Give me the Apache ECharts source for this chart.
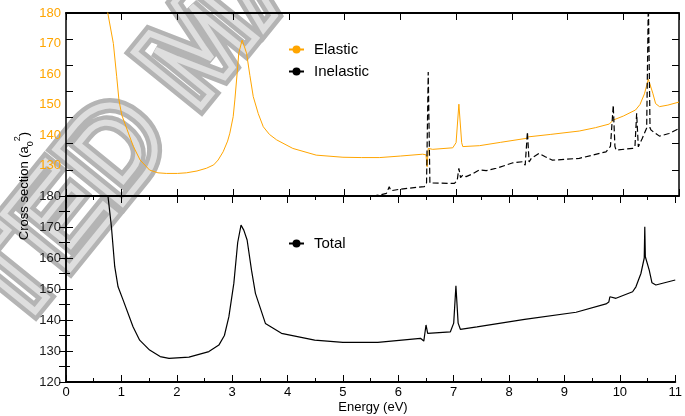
<!DOCTYPE html>
<html>
<head>
<meta charset="utf-8">
<script src="https://cdn.jsdelivr.net/npm/echarts@6/dist/echarts.min.js"></script>
<style>
  html, body { margin: 0; padding: 0; background: #fff; }
  #chart { width: 685px; height: 416px; }
</style>
</head>
<body>
<div id="chart"></div>
<script>
// energy (eV) and cross sections
const energyElastic = [0.70, 0.75, 0.85, 0.91, 0.95, 1.00, 1.12, 1.21, 1.33, 1.50, 1.65, 1.80, 2.00, 2.16, 2.35, 2.52, 2.65, 2.73, 2.82, 2.90, 2.94, 3.00, 3.03, 3.07, 3.10, 3.16, 3.21, 3.24, 3.30, 3.36, 3.45, 3.54, 3.65, 3.78, 4.07, 4.49, 4.97, 5.30, 5.63, 6.00, 6.40, 6.46, 6.48, 6.50, 6.58, 6.94, 7.00, 7.05, 7.10, 7.12, 7.42, 7.80, 8.26, 8.30, 8.70, 9.21, 9.50, 9.75, 9.82, 10.00, 10.22, 10.30, 10.38, 10.45, 10.53, 10.58, 10.65, 10.80, 11.00];
const elastic = [188, 180, 170, 159.1, 151.5, 146.6, 140.6, 136.2, 131.8, 128.5, 127.6, 127.4, 127.4, 127.6, 128.2, 129.1, 130.2, 131.8, 134.5, 138, 140.6, 146, 151.5, 160, 166.8, 171.1, 168.5, 166.8, 159.5, 152.6, 147, 142.7, 140.2, 138.4, 135.6, 133.4, 132.7, 132.6, 132.6, 133.1, 133.7, 133.5, 129.6, 135.6, 135.3, 135.8, 137.5, 150.1, 137.5, 136.2, 136.5, 137.6, 138.9, 139.4, 140.2, 141.3, 142.4, 143.6, 144.9, 146.2, 148.2, 150, 153.5, 158.3, 153.7, 150.3, 149.3, 149.8, 150.8];

// inelastic is on the (cut off) right-hand scale, 0..7 ticks
const energyInelastic = [5.50, 5.63, 5.75, 5.80, 5.83, 5.99, 6.43, 6.47, 6.50, 6.53, 6.97, 7.02, 7.05, 7.08, 7.12, 7.18, 7.30, 7.42, 7.54, 7.72, 8.02, 8.19, 8.24, 8.28, 8.31, 8.35, 8.49, 8.60, 8.73, 9.21, 9.69, 9.77, 9.82, 9.85, 9.87, 10.17, 10.21, 10.24, 10.27, 10.34, 10.42, 10.45, 10.48, 10.50, 10.65, 10.82, 11.00];
const inelastic = [0, 0.04, 0.1, 0.35, 0.2, 0.26, 0.36, 0.5, 4.74, 0.5, 0.48, 0.6, 1.06, 0.7, 0.8, 0.74, 0.85, 1.0, 0.97, 1.06, 1.27, 1.31, 1.18, 2.45, 1.3, 1.44, 1.63, 1.5, 1.37, 1.44, 1.69, 1.9, 3.47, 1.9, 1.76, 1.82, 1.9, 3.16, 1.88, 2.2, 2.6, 7.5, 2.6, 2.52, 2.29, 2.39, 2.58];

const energyTotal = [0.74, 0.76, 0.82, 0.88, 0.94, 1.03, 1.21, 1.33, 1.51, 1.70, 1.86, 2.22, 2.58, 2.76, 2.86, 2.94, 3.03, 3.10, 3.16, 3.21, 3.27, 3.35, 3.42, 3.60, 3.89, 4.49, 5.00, 5.63, 6.40, 6.46, 6.48, 6.50, 6.53, 6.94, 7.00, 7.04, 7.08, 7.12, 7.42, 8.28, 9.21, 9.75, 9.80, 9.82, 9.93, 10.23, 10.29, 10.38, 10.44, 10.45, 10.46, 10.53, 10.58, 10.65, 11.00];
const total = [182, 179.6, 170.1, 157.2, 150.7, 146.5, 137.8, 133.5, 130.3, 128.2, 127.6, 128, 129.8, 131.9, 135, 141, 151.8, 165, 170.6, 169, 165.8, 156, 148.6, 138.9, 135.7, 133.5, 132.8, 132.8, 134.1, 133.2, 133.5, 138.4, 135.7, 136.2, 139, 151, 139, 137, 137.8, 140.2, 142.5, 145.2, 145.8, 147.5, 147, 149.1, 150.7, 155, 160, 170.1, 160.4, 156.1, 152, 151.3, 152.9];

const FONT = "'Liberation Sans', Arial, sans-serif";
const ORANGE = '#ffa500';
const pairs = (xs, ys) => xs.map((x, i) => [x, ys[i]]);

const chart = echarts.init(document.getElementById('chart'), null, { renderer: 'canvas' });

const xBase = (grid, position, extra) => Object.assign({
  type: 'value', gridIndex: grid, position, min: 0, max: 11, interval: 1,
  axisLine: { show: true, onZero: false, lineStyle: { color: '#000', width: 2 } },
  axisTick: { show: true, inside: true, length: 7, lineStyle: { color: '#000', width: 1 } },
  axisLabel: { show: false },
  splitLine: { show: false }
}, extra || {});

const option = {
  animation: false,
  backgroundColor: '#fff',
  textStyle: { fontFamily: FONT },
  grid: [
    { left: 66, right: 6, top: 13, height: 183 },
    { left: 66, right: 6, top: 196, height: 186 }
  ],
  xAxis: [
    xBase(0, 'bottom'),
    xBase(0, 'top'),
    xBase(1, 'bottom', {
      axisLabel: { show: true, color: '#000', fontSize: 13, margin: 4, fontFamily: FONT },
      minorTick: { show: true, splitNumber: 2, length: 4, lineStyle: { color: '#000', width: 1 } }
    }),
    xBase(1, 'top', {
      minorTick: { show: true, splitNumber: 2, length: 4, lineStyle: { color: '#000', width: 1 } }
    })
  ],
  yAxis: [
    {
      type: 'value', gridIndex: 0, position: 'left', min: 120, max: 180, interval: 10,
      axisLine: { show: true, lineStyle: { color: '#000', width: 1.5 } },
      axisTick: { show: false },
      axisLabel: { color: ORANGE, fontSize: 13, margin: 5, fontFamily: FONT,
        formatter: v => (v === 120 ? '' : v) },
      splitLine: { show: false }
    },
    {
      type: 'value', gridIndex: 0, position: 'left', min: 0, max: 7, interval: 1,
      axisLine: { show: false },
      axisTick: { show: true, inside: true, length: 7, lineStyle: { color: '#000' } },
      axisLabel: { show: false },
      splitLine: { show: false }
    },
    {
      type: 'value', gridIndex: 0, position: 'right', min: 0, max: 7, interval: 1,
      axisLine: { show: true, lineStyle: { color: '#000', width: 1.5 } },
      axisTick: { show: true, inside: true, length: 7, lineStyle: { color: '#000' } },
      axisLabel: { show: false },
      splitLine: { show: false }
    },
    {
      type: 'value', gridIndex: 1, position: 'left', min: 120, max: 180, interval: 10,
      axisLine: { show: true, lineStyle: { color: '#000', width: 1.5 } },
      axisTick: { show: true, inside: true, length: 7, lineStyle: { color: '#000' } },
      minorTick: { show: true, splitNumber: 2, length: 4, lineStyle: { color: '#000' } },
      axisLabel: { color: '#1a1a1a', fontSize: 13, margin: 5, fontFamily: FONT },
      splitLine: { show: false }
    },
    {
      type: 'value', gridIndex: 1, position: 'right', min: 120, max: 180, interval: 5,
      axisLine: { show: true, lineStyle: { color: '#000', width: 1.5 } },
      axisTick: { show: true, inside: true, length: 7, lineStyle: { color: '#000' } },
      axisLabel: { show: false },
      splitLine: { show: false }
    }
  ],
  legend: [
    {
      data: ['Elastic', 'Inelastic'], orient: 'vertical', left: 283, top: 37,
      itemWidth: 15, itemHeight: 10, itemGap: 7,
      textStyle: { color: '#000', fontSize: 15, fontFamily: FONT, padding: [0, 0, 0, 5] }
    },
    {
      data: ['Total'], orient: 'vertical', left: 283, top: 231,
      itemWidth: 15, itemHeight: 10,
      textStyle: { color: '#000', fontSize: 15, fontFamily: FONT, padding: [0, 0, 0, 5] }
    }
  ],
  graphic: [
    // faint diagonal watermark behind the plot
    {
      type: 'text', x: 204, y: 48, rotation: 51 * Math.PI / 180, z: -10, silent: true,
      style: { text: 'ACCEPTED MANUSCRIPT', font: 'bold 125px ' + FONT, fill: 'transparent',
        stroke: '#b4b4b4', lineWidth: 15, align: 'center', verticalAlign: 'middle' }
    },
    {
      type: 'text', x: 204, y: 48, rotation: 51 * Math.PI / 180, z: -9, silent: true,
      style: { text: 'ACCEPTED MANUSCRIPT', font: 'bold 125px ' + FONT, fill: 'transparent',
        stroke: '#dedede', lineWidth: 6, align: 'center', verticalAlign: 'middle' }
    },
    {
      type: 'text', x: 24, y: 186, rotation: Math.PI / 2, z: 10,
      style: {
        text: 'Cross section (a{sub|0}{sup|2})',
        fontSize: 13, fontFamily: FONT, fill: '#000', align: 'center', verticalAlign: 'middle',
        lineHeight: 22,
        rich: {
          sub: { fontSize: 9, fontFamily: FONT, verticalAlign: 'bottom', lineHeight: 9 },
          sup: { fontSize: 9, fontFamily: FONT, verticalAlign: 'top', lineHeight: 9 }
        }
      }
    },
    {
      type: 'text', x: 373, y: 407, z: 10,
      style: { text: 'Energy (eV)', fontSize: 13, fontFamily: FONT, fill: '#000',
        align: 'center', verticalAlign: 'middle' }
    }
  ],
  series: [
    {
      name: 'Elastic', type: 'line', xAxisIndex: 0, yAxisIndex: 0,
      data: pairs(energyElastic, elastic), showSymbol: false, symbol: 'none',
      lineStyle: { color: ORANGE, width: 1 }, itemStyle: { color: ORANGE }
    },
    {
      name: 'Inelastic', type: 'line', xAxisIndex: 0, yAxisIndex: 2,
      data: pairs(energyInelastic, inelastic), showSymbol: false, symbol: 'none',
      lineStyle: { color: '#000', width: 1.2, type: [6, 3] }, itemStyle: { color: '#000' }
    },
    {
      name: 'Total', type: 'line', xAxisIndex: 2, yAxisIndex: 3,
      data: pairs(energyTotal, total), showSymbol: false, symbol: 'none',
      lineStyle: { color: '#000', width: 1.2 }, itemStyle: { color: '#000' }
    }
  ]
};

chart.setOption(option);
</script>
</body>
</html>
